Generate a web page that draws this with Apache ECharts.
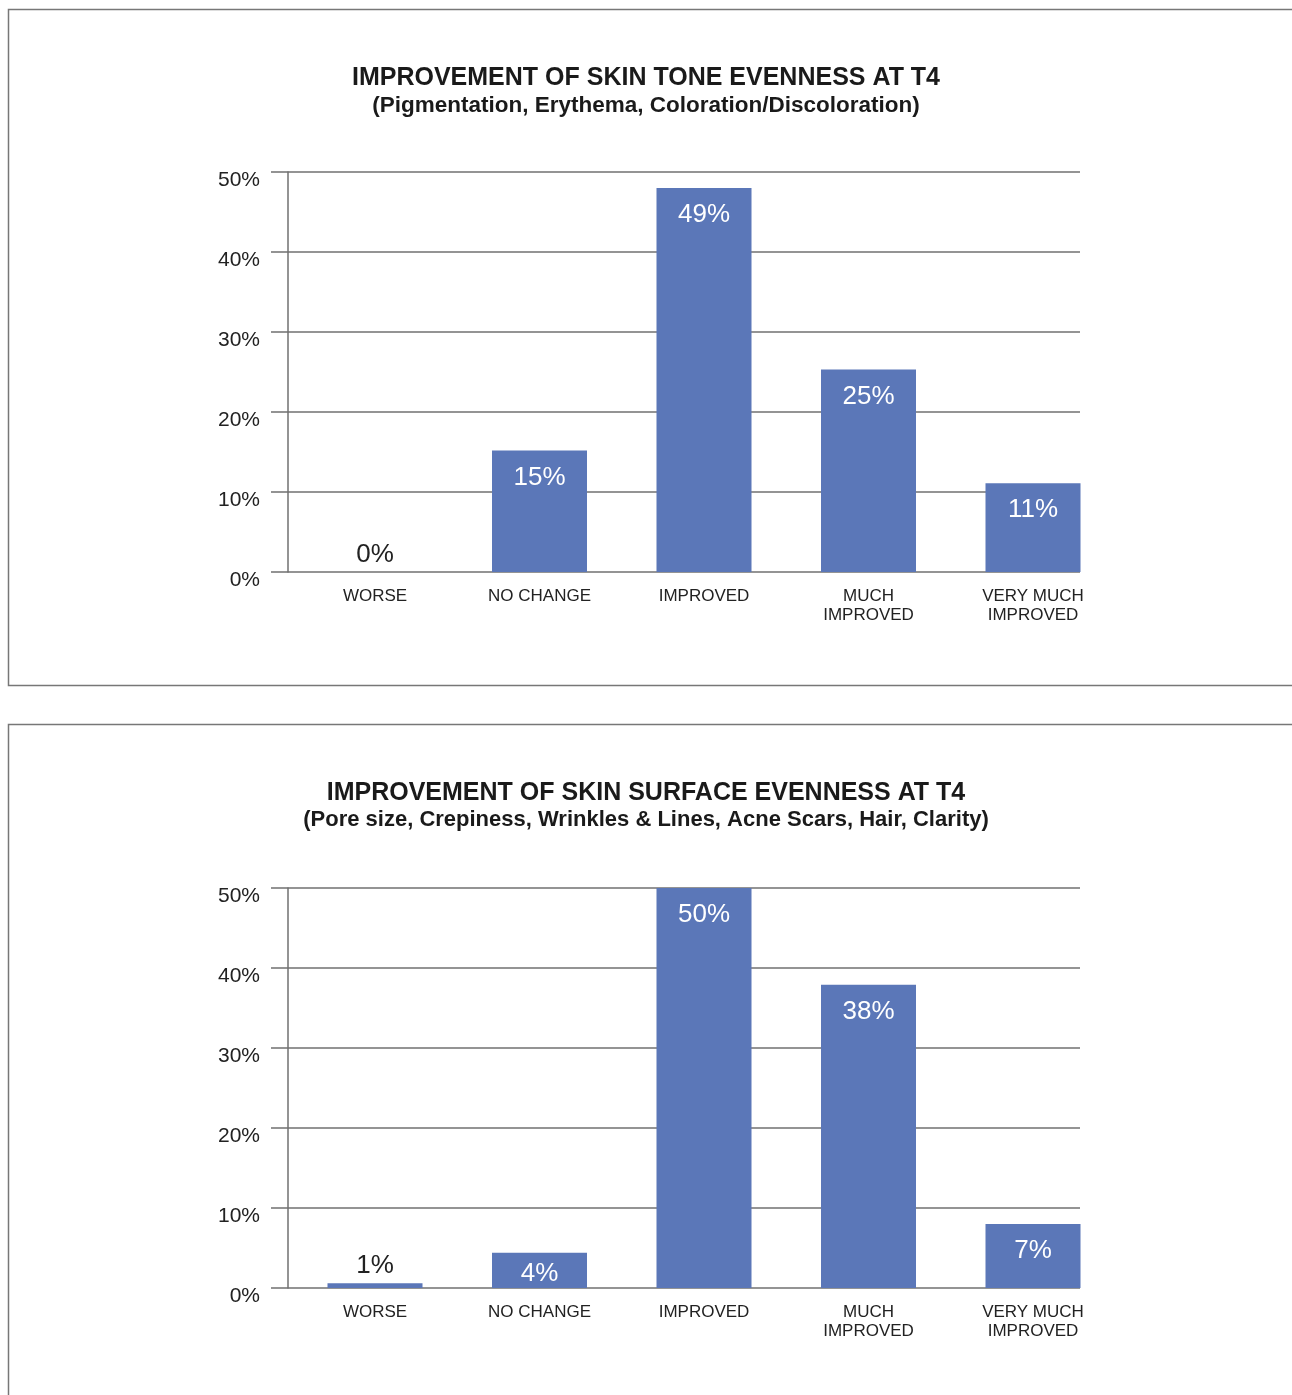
<!DOCTYPE html>
<html>
<head>
<meta charset="utf-8">
<script src="https://cdn.jsdelivr.net/npm/echarts@6/dist/echarts.min.js"></script>
<style>
html, body { margin: 0; padding: 0; background: #fff; }
#mybox { width: 1292px; height: 1395px; }
</style>
</head>
<body>
<div id="mybox"></div>
<script>
// data
var categories = ['WORSE', 'NO CHANGE', 'IMPROVED', 'MUCH\nIMPROVED', 'VERY MUCH\nIMPROVED'];

var toneTitle = 'IMPROVEMENT OF SKIN TONE EVENNESS AT T4';
var toneSub = '(Pigmentation, Erythema, Coloration/Discoloration)';
var toneValues = [0, 15.2, 48, 25.3, 11.1];
var toneLabels = ['0%', '15%', '49%', '25%', '11%'];

var surfTitle = 'IMPROVEMENT OF SKIN SURFACE EVENNESS AT T4';
var surfSub = '(Pore size, Crepiness, Wrinkles & Lines, Acne Scars, Hair, Clarity)';
var surfValues = [0.6, 4.4, 50, 37.9, 8.0];
var surfLabels = ['1%', '4%', '50%', '38%', '7%'];

var FONT = 'Liberation Sans';
var BAR = '#5b77b8';
var LINE = '#707070';

var mycharts = echarts.init(document.getElementById('mybox'));

function barData(values, labels) {
    return values.map(function (v, i) {
        var small = v < 2;
        var dist = small ? 4 : (v < 6 ? 8 : 14);
        return {
            value: v,
            label: {
                show: true,
                formatter: labels[i],
                position: small ? 'top' : 'insideTop',
                distance: dist,
                color: small ? '#222' : '#fff',
                fontSize: 26,
                fontFamily: FONT
            }
        };
    });
}

// grid top positions of each panel
var panels = [
    { top: 172, titleTop: 61, title: toneTitle, sub: toneSub, values: toneValues, labels: toneLabels },
    { top: 888, titleTop: 776, title: surfTitle, sub: surfSub, values: surfValues, labels: surfLabels }
];

var option = {
    backgroundColor: '#fff',
    animation: false,
    title: [],
    grid: [],
    xAxis: [],
    yAxis: [],
    series: [],
    graphic: [
        { type: 'rect', shape: { x: 8.5, y: 9.5, width: 1300, height: 676 }, style: { fill: 'none', stroke: '#777', lineWidth: 1.5 } },
        { type: 'rect', shape: { x: 8.5, y: 724.5, width: 1300, height: 700 }, style: { fill: 'none', stroke: '#777', lineWidth: 1.5 } }
    ]
};

panels.forEach(function (p, k) {
    option.title.push({
        text: p.title,
        subtext: p.sub,
        left: 'center',
        top: p.titleTop,
        itemGap: 3,
        textStyle: { fontFamily: FONT, fontWeight: 'bold', fontSize: 25, color: '#1a1a1a' },
        subtextStyle: { fontFamily: FONT, fontWeight: 'bold', fontSize: k ? 22 : 22.5, color: '#1a1a1a' }
    });
    // grid for axis lines / gridlines
    option.grid.push({ left: 288, top: p.top, width: 792, height: 400 });
    // grid for the bars
    option.grid.push({ left: 292.75, top: p.top, width: 822.5, height: 400 });

    var ga = k * 2, gb = k * 2 + 1;
    option.xAxis.push({
        type: 'value', gridIndex: ga, min: 0, max: 1, show: false
    });
    option.xAxis.push({
        type: 'category', gridIndex: gb, data: categories,
        axisLine: { show: false }, axisTick: { show: false },
        axisLabel: { fontFamily: FONT, fontSize: 17, color: '#222', margin: 15, lineHeight: 19, interval: 0 }
    });
    option.yAxis.push({
        type: 'value', gridIndex: ga, min: 0, max: 50, interval: 10,
        axisLine: { show: true, lineStyle: { color: LINE, width: 1.5 } },
        axisTick: { show: true, length: 17, lineStyle: { color: LINE, width: 1.5 } },
        splitLine: { show: true, lineStyle: { color: LINE, width: 1.5 } },
        axisLabel: {
            fontFamily: FONT, fontSize: 21, color: '#222', margin: 28,
            verticalAlign: 'top', lineHeight: 16,
            formatter: function (v) { return v + '%'; }
        }
    });
    option.yAxis.push({
        type: 'value', gridIndex: gb, min: 0, max: 50, show: false
    });
    option.series.push({
        type: 'bar',
        xAxisIndex: gb, yAxisIndex: gb,
        barWidth: 95,
        itemStyle: { color: BAR },
        z: 3,
        data: barData(p.values, p.labels)
    });
});

mycharts.setOption(option);
</script>
</body>
</html>
